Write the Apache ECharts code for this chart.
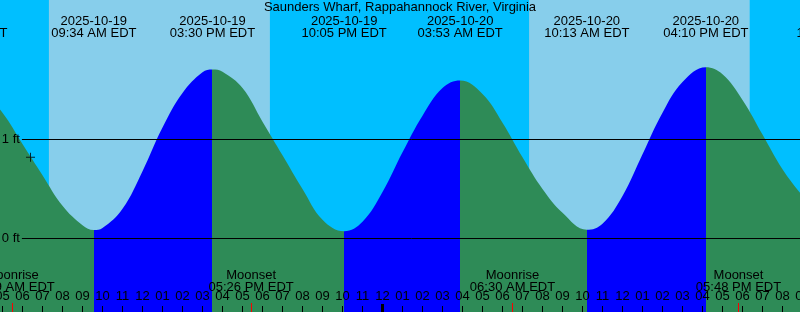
<!DOCTYPE html>
<html><head><meta charset="utf-8">
<script src="https://cdn.jsdelivr.net/npm/echarts@6/dist/echarts.min.js"></script>
<style>html,body{margin:0;padding:0;background:#00BFFF}#c{width:800px;height:312px}</style>
</head><body><div id="c"></div>
<script>
const chartTitle = 'Saunders Wharf, Rappahannock River, Virginia';
// times are hours since 2025-10-19 00:00 EDT, levels in feet
const curveHours = [2, 3.12, 4, 5, 6, 7, 8, 9, 9.567, 10, 11, 12, 13, 14, 15, 15.5, 16, 17, 18, 19, 20, 21, 22.083, 23, 24, 25, 26, 27, 27.883, 29, 30, 31, 32, 33, 34.217, 35, 36, 37, 38, 39, 40.167, 41, 42, 43, 44, 45, 46, 46.833, 48];
const curveFeet  = [1.50, 1.57, 1.49, 1.27, 0.955, 0.64, 0.33, 0.135, 0.085, 0.105, 0.30, 0.68, 1.12, 1.47, 1.68, 1.707, 1.685, 1.52, 1.18, 0.84, 0.50, 0.19, 0.074, 0.17, 0.47, 0.87, 1.24, 1.52, 1.596, 1.46, 1.17, 0.82, 0.50, 0.26, 0.088, 0.15, 0.43, 0.85, 1.27, 1.58, 1.73, 1.66, 1.40, 1.05, 0.70, 0.43, 0.18, 0.09, 0.20];
const tideHours = [3.12, 9.567, 15.5, 22.083, 27.883, 34.217, 40.167, 46.833];
const tideKinds = ['H', 'L', 'H', 'L', 'H', 'L', 'H', 'L'];
const tideDates = ['2025-10-19', '2025-10-19', '2025-10-19', '2025-10-19', '2025-10-20', '2025-10-20', '2025-10-20', '2025-10-20'];
const tideTimes = ['03:07 AM EDT', '09:34 AM EDT', '03:30 PM EDT', '10:05 PM EDT', '03:53 AM EDT', '10:13 AM EDT', '04:10 PM EDT', '10:50 PM EDT'];
const sunriseHours = [7.32, 31.33];
const sunsetHours = [18.37, 42.36];
const moonHours = [5.48, 17.433, 30.5, 41.8];
const moonEvents = ['Moonrise', 'Moonset', 'Moonrise', 'Moonset'];
const moonTimes = ['05:29 AM EDT', '05:26 PM EDT', '06:30 AM EDT', '05:48 PM EDT'];
const midnightHours = [24];
const nowHour = 6.4, nowFeet = 0.82;
const levelFeet = [0, 1];
const levelLabels = ['0 ft', '1 ft'];

const FONT = 'Liberation Sans';
const HOUR_FONT = "'Liberation Sans Narrow', 'Liberation Sans'";
const C_NIGHT = '#00BFFF', C_DAY = '#87CEEB', C_RISE = '#0000FF', C_FALL = '#2E8B57';
const X_MIN = 2, X_MAX = 48;

function nearestIdx(arr, v) {
  let b = 0;
  arr.forEach((a, i) => { if (Math.abs(a - v) < Math.abs(arr[b] - v)) b = i; });
  return b;
}

const pieces = [{ lt: tideHours[0], color: tideKinds[0] === 'H' ? C_RISE : C_FALL }];
for (let i = 0; i < tideHours.length - 1; i++) {
  pieces.push({ gte: tideHours[i], lt: tideHours[i + 1], color: tideKinds[i] === 'L' ? C_RISE : C_FALL });
}
pieces.push({ gte: tideHours[tideHours.length - 1], color: tideKinds[tideHours.length - 1] === 'L' ? C_RISE : C_FALL });

const baseX = { type: 'value', min: X_MIN, max: X_MAX, gridIndex: 0, z: 10,
  axisLine: { show: false, onZero: false }, splitLine: { show: false } };

const chart = echarts.init(document.getElementById('c'), null, { renderer: 'canvas' });
chart.setOption({
  animation: false,
  backgroundColor: C_NIGHT,
  textStyle: { fontFamily: FONT },
  title: { text: chartTitle, left: 'center', top: 1, padding: 0,
    textStyle: { fontSize: 13, fontWeight: 'normal', color: '#000', fontFamily: FONT } },
  grid: { left: -57.5, right: -62.5, top: 0, bottom: 0, containLabel: false, outerBoundsMode: 'none' },
  visualMap: { type: 'piecewise', show: false, dimension: 0, seriesIndex: 0, pieces: pieces },
  xAxis: [
    Object.assign({}, baseX, { position: 'bottom', interval: 1,
      axisTick: { show: true, inside: true, length: 6, lineStyle: { color: '#000', width: 1 } },
      axisLabel: { show: true, inside: true, margin: 9, color: '#000', fontSize: 13, fontFamily: HOUR_FONT,
        formatter: v => { const h = (Math.round(v) % 12) || 12; return (h < 10 ? '0' : '') + h; } } }),
    Object.assign({}, baseX, { position: 'bottom',
      axisTick: { show: true, inside: true, length: 8, customValues: midnightHours, lineStyle: { color: '#000', width: 3 } },
      axisLabel: { show: false } }),
    Object.assign({}, baseX, { position: 'bottom',
      axisTick: { show: true, inside: true, length: 9, customValues: moonHours, lineStyle: { color: '#FF0000', width: 1 } },
      axisLabel: { show: true, inside: true, margin: 18.5, customValues: moonHours, color: '#000', fontSize: 13, lineHeight: 12, fontFamily: FONT,
        formatter: v => { const i = nearestIdx(moonHours, v); return moonEvents[i] + '\n' + moonTimes[i]; } } }),
    Object.assign({}, baseX, { position: 'top',
      axisTick: { show: false },
      axisLabel: { show: true, inside: true, margin: 15, customValues: tideHours, color: '#000', fontSize: 13, lineHeight: 12, fontFamily: FONT,
        formatter: v => { const i = nearestIdx(tideHours, v); return tideDates[i] + '\n' + tideTimes[i]; } } })
  ],
  yAxis: { type: 'value', show: false, min: -0.7424, max: 2.4091, splitLine: { show: false } },
  series: [
    {
      type: 'line', xAxisIndex: 0, yAxisIndex: 0, z: 2, silent: true,
      data: curveHours.map((h, i) => [h, curveFeet[i]]),
      smooth: 0.4, showSymbol: false, symbol: 'none',
      lineStyle: { width: 0, opacity: 0 },
      areaStyle: { opacity: 1, origin: 'start' },
      markArea: { silent: true, z: 1, itemStyle: { color: C_DAY, opacity: 1 },
        data: sunriseHours.map((s, i) => [{ xAxis: s }, { xAxis: sunsetHours[i] }]) },
      markLine: { silent: true, symbol: ['none', 'none'], z: 5,
        lineStyle: { type: 'solid', color: '#000', width: 1 },
        emphasis: { disabled: true },
        data: levelFeet.map((f, i) => [
          { coord: [5.97, f], label: { show: true, position: 'start', distance: 2, formatter: levelLabels[i], color: '#000', fontSize: 13, fontFamily: FONT } },
          { coord: [X_MAX, f] }
        ]) }
    },
    {
      type: 'scatter', xAxisIndex: 0, yAxisIndex: 0, z: 6, silent: true,
      data: [[nowHour, nowFeet]],
      symbol: 'path://M4,0h1v4h4v1h-4v4h-1v-4h-4v-1h4z', symbolSize: 9,
      itemStyle: { color: '#000' }
    }
  ]
});
</script></body></html>
